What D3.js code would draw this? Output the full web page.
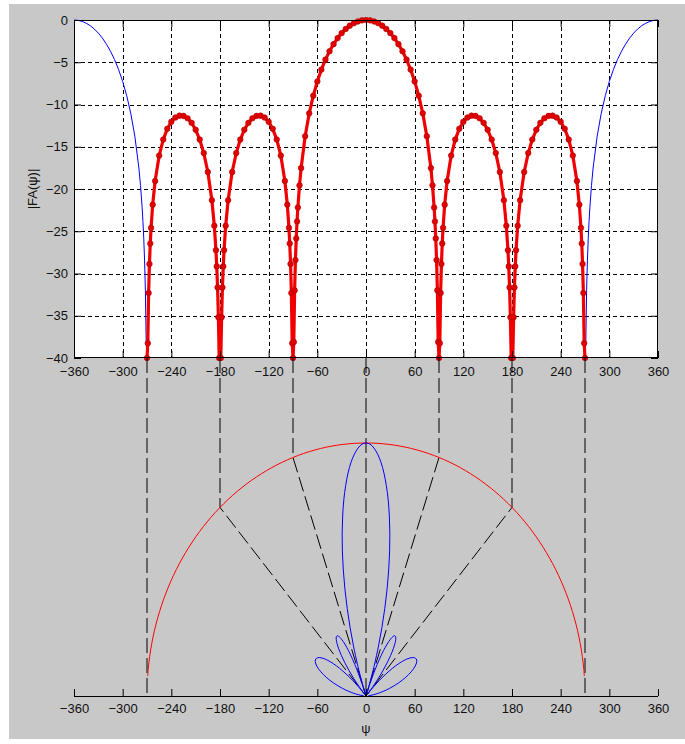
<!DOCTYPE html>
<html>
<head>
<meta charset="utf-8">
<script src="https://cdn.jsdelivr.net/npm/d3@7"></script>
<style>
  html, body { margin: 0; padding: 0; background: #ffffff; }
  svg { display: block; }
  text { font-family: "Liberation Sans", Arial, sans-serif; }
</style>
</head>
<body>
<svg id="chart" width="685" height="744"></svg>
<script>
// ---------------- data ----------------
// visible-region (red) array factor in dB versus psi (degrees)
const psiRed = [-270,-269,-268,-267,-266,-265,-263,-260,-255,-250,-245,-240,-235,-230,-225,-220,-215,-210,-205,-200,-195,-190,-187,-185,-184,-183,-182,-181,-180,-179,-178,-177,-176,-175,-173,-170,-165,-160,-155,-150,-145,-140,-135,-130,-125,-120,-115,-110,-105,-100,-97,-95,-94,-93,-92,-91,-90,-89,-88,-87,-86,-85,-84,-82,-80,-75,-70,-65,-60,-55,-50,-45,-40,-35,-30,-25,-20,-15,-10,-5,
  0,5,10,15,20,25,30,35,40,45,50,55,60,65,70,75,80,82,84,85,86,87,88,89,90,91,92,93,94,95,97,100,105,110,115,120,125,130,135,140,145,150,155,160,165,170,173,175,176,177,178,179,180,181,182,183,184,185,187,190,195,200,205,210,215,220,225,230,235,240,245,250,255,260,263,265,266,267,268,269,270];
const dbRed = [-40,-38.25,-32.31,-28.87,-26.45,-24.60,-21.86,-19.05,-16.05,-14.15,-12.88,-12.04,-11.54,-11.32,-11.35,-11.63,-12.17,-12.99,-14.15,-15.75,-17.99,-21.33,-24.35,-27.24,-29.16,-31.65,-35.17,-40,-40,-40,-35.17,-31.65,-29.16,-27.24,-24.35,-21.33,-17.99,-15.75,-14.15,-12.99,-12.17,-11.63,-11.35,-11.32,-11.54,-12.04,-12.88,-14.15,-16.05,-19.05,-21.86,-24.60,-26.45,-28.87,-32.31,-38.25,-40,-38.10,-32.00,-28.41,-25.85,-23.84,-22.19,-19.57,-17.52,-13.75,-11.05,-8.96,-7.27,-5.87,-4.69,-3.70,-2.86,-2.14,-1.55,-1.06,-0.67,-0.38,-0.17,-0.04,
  0,-0.04,-0.17,-0.38,-0.67,-1.06,-1.55,-2.14,-2.86,-3.70,-4.69,-5.87,-7.27,-8.96,-11.05,-13.75,-17.52,-19.57,-22.19,-23.84,-25.85,-28.41,-32.00,-38.10,-40,-38.25,-32.31,-28.87,-26.45,-24.60,-21.86,-19.05,-16.05,-14.15,-12.88,-12.04,-11.54,-11.32,-11.35,-11.63,-12.17,-12.99,-14.15,-15.75,-17.99,-21.33,-24.35,-27.24,-29.16,-31.65,-35.17,-40,-40,-40,-35.17,-31.65,-29.16,-27.24,-24.35,-21.33,-17.99,-15.75,-14.15,-12.99,-12.17,-11.63,-11.35,-11.32,-11.54,-12.04,-12.88,-14.15,-16.05,-19.05,-21.86,-24.60,-26.45,-28.87,-32.31,-38.25,-40];

// invisible-region (blue) array factor in dB
const psiBlueLeft = [-360,-355,-350,-345,-340,-335,-330,-325,-320,-315,-310,-305,-300,-295,-290,-285,-280,-278,-276,-275,-274,-273,-272,-271,-270];
const dbBlueLeft  = [0,-0.04,-0.17,-0.38,-0.67,-1.06,-1.55,-2.14,-2.86,-3.70,-4.69,-5.87,-7.27,-8.96,-11.05,-13.75,-17.52,-19.57,-22.19,-23.84,-25.85,-28.41,-32.00,-38.10,-40];
const psiBlueRight = [270,271,272,273,274,275,276,278,280,285,290,295,300,305,310,315,320,325,330,335,340,345,350,355,360];
const dbBlueRight  = [-40,-38.10,-32.00,-28.41,-25.85,-23.84,-22.19,-19.57,-17.52,-13.75,-11.05,-8.96,-7.27,-5.87,-4.69,-3.70,-2.86,-2.14,-1.55,-1.06,-0.67,-0.38,-0.17,-0.04,0];

// nulls and visible-region radius (kd, degrees)
const nullPsi = [-270,-180,-90,0,90,180,270];
const kd = 270;
const circleStartDeg = 4.5;   // drawn part of the visible-region circle
const circleEndDeg = 175.5;

// tick labels
const xTicks = [-360,-300,-240,-180,-120,-60,0,60,120,180,240,300,360];
const yTicks = [0,-5,-10,-15,-20,-25,-30,-35,-40];

// ---------------- layout ----------------
const svg = d3.select("#chart");
const W = 685, H = 744;
const L = 74, R = 658, T = 20, B = 358;
const baseY = 696, topPolarY = 443;

svg.append("rect").attr("x", 9).attr("y", 4).attr("width", W - 9).attr("height", 735).attr("fill", "#c8c8c8");

const x = d3.scaleLinear().domain([-360, 360]).range([L, R]);
const yT = d3.scaleLinear().domain([-40, 0]).range([B, T]);
const yB = d3.scaleLinear().domain([0, kd]).range([baseY, topPolarY]);

// ---------------- top axes ----------------
svg.append("rect").attr("x", L).attr("y", T).attr("width", R - L).attr("height", B - T).attr("fill", "#ffffff");

svg.append("defs").append("clipPath").attr("id", "clipTop")
  .append("rect").attr("x", L).attr("y", T - 3).attr("width", R - L).attr("height", B - T + 6);

// grid
const grid = svg.append("g").attr("stroke", "#000").attr("stroke-width", 1).attr("stroke-dasharray", "4,3");
grid.selectAll("line.gx").data(xTicks.filter(t => t > -360 && t < 360)).join("line")
  .attr("x1", d => Math.round(x(d)) + 0.5).attr("x2", d => Math.round(x(d)) + 0.5)
  .attr("y1", T).attr("y2", B);
grid.selectAll("line.gy").data(yTicks.filter(t => t > -40 && t < 0)).join("line")
  .attr("x1", L).attr("x2", R)
  .attr("y1", d => Math.round(yT(d)) + 0.5).attr("y2", d => Math.round(yT(d)) + 0.5);

// curves
const plot = svg.append("g").attr("clip-path", "url(#clipTop)");
const lineTop = d3.line().x(d => x(d[0])).y(d => yT(d[1]));
const blueL = psiBlueLeft.map((p, i) => [p, dbBlueLeft[i]]);
const blueR = psiBlueRight.map((p, i) => [p, dbBlueRight[i]]);
[blueL, blueR].forEach(s => plot.append("path").attr("d", lineTop(s))
  .attr("fill", "none").attr("stroke", "#0000ff").attr("stroke-width", 1));

const red = psiRed.map((p, i) => [p, dbRed[i]]);
plot.append("path").attr("d", lineTop(red)).attr("fill", "none")
  .attr("stroke", "#f00000").attr("stroke-width", 3.2).attr("stroke-linejoin", "round");
plot.selectAll("circle.m").data(red).join("circle")
  .attr("cx", d => x(d[0])).attr("cy", d => yT(d[1])).attr("r", 2.8)
  .attr("fill", "#e00000").attr("stroke", "#b00000").attr("stroke-width", 0.6);

// box
svg.append("rect").attr("x", L + 0.5).attr("y", T + 0.5).attr("width", R - L - 1).attr("height", B - T - 1)
  .attr("fill", "none").attr("stroke", "#000").attr("stroke-width", 1);

// axes
const axB = svg.append("g").attr("transform", `translate(0,${B})`)
  .call(d3.axisBottom(x).tickValues(xTicks).tickFormat(d3.format("d")).tickSizeInner(-7).tickSizeOuter(0).tickPadding(9));
const axTop = svg.append("g").attr("transform", `translate(0,${T})`)
  .call(d3.axisTop(x).tickValues(xTicks).tickFormat("").tickSizeInner(-7).tickSizeOuter(0));
const axL = svg.append("g").attr("transform", `translate(${L},0)`)
  .call(d3.axisLeft(yT).tickValues(yTicks).tickFormat(d3.format("d")).tickSizeInner(-7).tickSizeOuter(0).tickPadding(6));
const axR = svg.append("g").attr("transform", `translate(${R},0)`)
  .call(d3.axisRight(yT).tickValues(yTicks).tickFormat("").tickSizeInner(-7).tickSizeOuter(0));
[axB, axTop, axL, axR].forEach(a => {
  a.select(".domain").remove();
  a.selectAll("line").attr("stroke", "#000");
  a.selectAll("text").attr("fill", "#111").style("font-size", "13px");
});

svg.append("text").attr("transform", `translate(34,${(T + B) / 2}) rotate(-90)`)
  .attr("text-anchor", "middle").attr("dominant-baseline", "middle")
  .style("font-size", "13px").attr("fill", "#111").text("|FA(ψ)|");

// ---------------- bottom (polar) axes ----------------
// dashed construction lines
const dashG = svg.append("g").attr("fill", "none").attr("stroke", "#000").attr("stroke-width", 1).attr("stroke-dasharray", "15,5");
nullPsi.forEach(p => {
  const h = Math.sqrt(kd * kd - p * p);
  const pts = [[x(p), B], [x(p), yB(h)]];
  if (h > 0) pts.push([x(0), yB(0)]);
  dashG.append("path").attr("d", d3.line()(pts));
});

// visible-region circle
const arcPts = d3.range(circleStartDeg, circleEndDeg + 0.01, 1.5).map(a => {
  const t = a * Math.PI / 180;
  return [x(kd * Math.cos(t)), yB(kd * Math.sin(t))];
});
svg.append("path").attr("d", d3.line().curve(d3.curveCatmullRom)(arcPts))
  .attr("fill", "none").attr("stroke", "#ff0000").attr("stroke-width", 1);

// polar array factor (same data mapped to theta)
const polar = psiRed.map((p, i) => {
  const r = Math.pow(10, dbRed[i] / 20);
  return [x(r * p), yB(r * Math.sqrt(Math.max(0, kd * kd - p * p)))];
});
svg.append("path").attr("d", d3.line().curve(d3.curveCatmullRom)(polar))
  .attr("fill", "none").attr("stroke", "#0000ff").attr("stroke-width", 1);

// bottom axis
const axP = svg.append("g").attr("transform", `translate(0,${baseY})`)
  .call(d3.axisBottom(x).tickValues(xTicks).tickFormat(d3.format("d")).tickSizeInner(-7).tickSizeOuter(0).tickPadding(8));
axP.select(".domain").attr("stroke", "#000").attr("d", `M${L},0.5H${R}`);
axP.selectAll("line").attr("stroke", "#000");
axP.selectAll("text").attr("fill", "#111").style("font-size", "13px");

svg.append("text").attr("x", x(0)).attr("y", 730).attr("text-anchor", "middle")
  .attr("dominant-baseline", "middle").style("font-size", "13px").attr("fill", "#111").text("ψ");
</script>
</body>
</html>
